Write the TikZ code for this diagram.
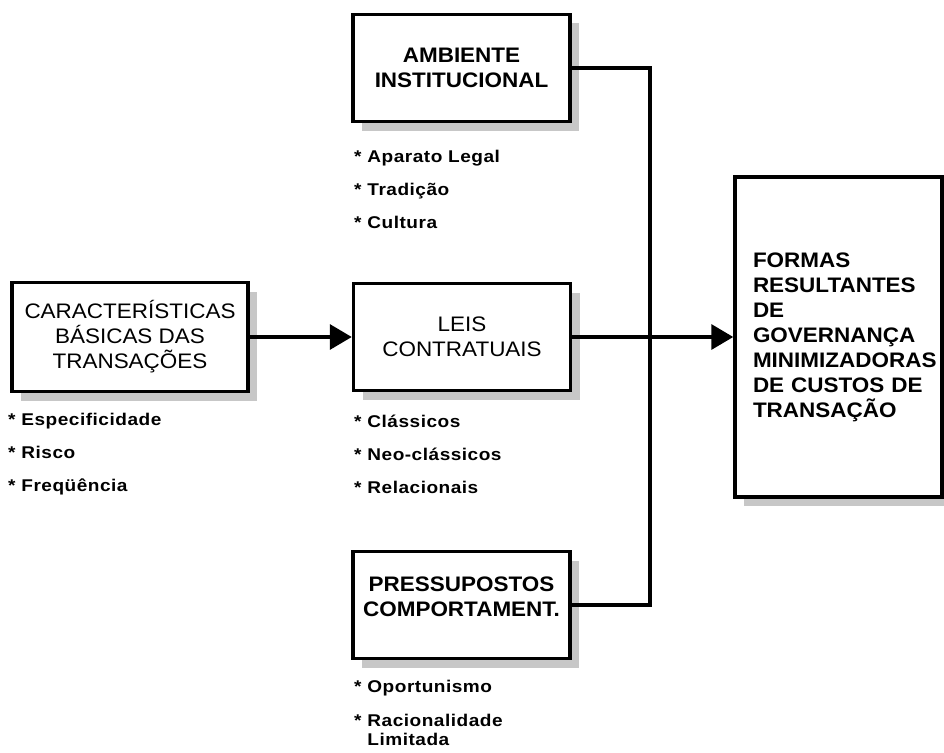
\documentclass[tikz,border=0pt]{standalone}
\usepackage{fontspec}
\setmainfont{Liberation Sans}[FakeStretch=1.07]
\newfontfamily\itemfont{Liberation Sans}[FakeStretch=1.12,LetterSpace=3]
\usetikzlibrary{arrows.meta,shadows}
\uchyph=0

\tikzset{
  caixa/.style={draw, line width=3.5pt, fill=white, align=center,
    minimum width=217pt, minimum height=107pt,
    font=\fontsize{21}{25}\selectfont,
    drop shadow={shadow xshift=9pt, shadow yshift=-9pt, fill=black!22, opacity=1}},
  negrito/.style={font=\bfseries\fontsize{21}{25}\selectfont},
  itens/.style={anchor=north west, align=left, inner sep=0pt,
    font=\itemfont\bfseries\fontsize{17}{33}\selectfont},
  liga/.style={line width=3.5pt},
  seta/.style={line width=3.5pt, -{Triangle[length=22pt,width=25pt]}}
}

\begin{document}
\begin{tikzpicture}[x=1pt, y=-1pt]
  \useasboundingbox (0,0) rectangle (944,752);

  % caixas
  \node[caixa, minimum width=236pt, minimum height=109pt] (carac) at (130,337)
    {CARACTERÍSTICAS\\BÁSICAS DAS\\TRANSAÇÕES};
  \node[caixa, negrito] (amb) at (461.5,68) {AMBIENTE\\INSTITUCIONAL};
  \node[caixa] (leis) at (462,337) {LEIS\\CONTRATUAIS};
  \node[caixa, negrito] (press) at (461.5,605)
    {PRESSUPOSTOS\\COMPORTAMENT.\\[-9pt]\mbox{}};
  \node[caixa, negrito, minimum width=207pt, minimum height=320pt,
    text width=171pt, inner xsep=18pt, align=left] (formas) at (838.5,337)
    {FORMAS\\RESULTANTES\\DE\\GOVERNANÇA\\MINIMIZADORAS\\DE CUSTOS DE\\TRANSAÇÃO};

  % listas
  \node[itens] (lcarac) at (8,413) {* Especificidade\\* Risco\\* Freqüência};
  \node[itens] (lamb) at (354,150) {* Aparato Legal\\* Tradição\\* Cultura};
  \node[itens] (lleis) at (354,415) {* Clássicos\\* Neo-clássicos\\* Relacionais};
  \node[itens, font=\itemfont\bfseries\fontsize{17}{19}\selectfont] (lpress) at (354,680)
    {* Oportunismo\\[15pt]* Racionalidade\\\hphantom{* }Limitada};

  % ligacoes
  \coordinate (juncao) at (650,337);
  \draw[liga] (amb.east) -| (juncao) |- (press.east);
  \draw[seta] (carac) -- (leis);
  \draw[seta] (leis) -- (formas);
\end{tikzpicture}
\end{document}
